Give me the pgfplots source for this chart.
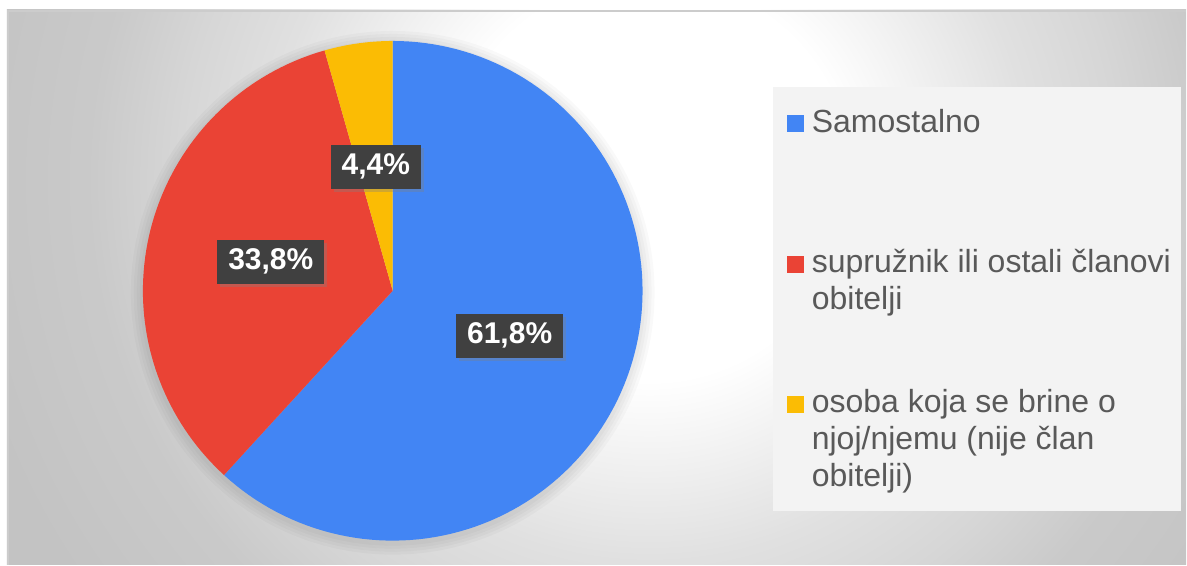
\documentclass[border=0pt]{standalone}
\usepackage{pgfplots}
\pgfplotsset{compat=1.18}
\usepackage{fontspec}
\setmainfont{Liberation Sans}
\usetikzlibrary{shadows}
\definecolor{cblue}{HTML}{4285F4}
\definecolor{cred}{HTML}{EA4335}
\definecolor{cyellow}{HTML}{FBBC04}
\definecolor{labfill}{HTML}{404040}
\definecolor{legtext}{HTML}{595959}
\definecolor{legfill}{HTML}{F3F3F3}
\definecolor{frame}{HTML}{CCCCCC}
\pgfdeclareradialshading{bgshade}{\pgfpoint{0bp}{0bp}}{%
  color(0bp)=(white);
  color(7.6bp)=(white);
  color(14.4bp)=(white!88!black);
  color(17.8bp)=(white!84!black);
  color(21.2bp)=(white!79!black);
  color(26.5bp)=(white!76.5!black);
  color(50bp)=(white!75!black)}
\begin{document}
\begin{tikzpicture}
% background
\fill[white] (0,0) rectangle (593.5pt,282.5pt);
\begin{scope}
\clip (3.5pt,0) rectangle (593.5pt,277.5pt);
\shade[shading=bgshade] (-5pt,-137.5pt) rectangle (655pt,522.5pt);
\end{scope}
\draw[frame, line width=0.8pt] (3.9pt,0) -- (3.9pt,277.1pt) -- (593.5pt,277.1pt);
% soft halo round the pie
\foreach \r in {131,129.5,128,126.5}{\fill[black, opacity=0.025] (196.5pt,136pt) circle (\r pt);}
% pie
\begin{axis}[at={(196.5pt,137pt)}, anchor=center,
  x=125pt, y=125pt, xmin=-1, xmax=1, ymin=-1, ymax=1,
  hide axis, clip=false]
\addplot[fill=cblue, draw=none, domain={0}:{61.8*3.6}, samples=120, variable=\t]
  ({sin(\t)},{cos(\t)}) -- (axis cs:0,0) -- cycle;
\addplot[fill=cred, draw=none, domain={61.8*3.6}:{(61.8+33.8)*3.6}, samples=80, variable=\t]
  ({sin(\t)},{cos(\t)}) -- (axis cs:0,0) -- cycle;
\addplot[fill=cyellow, draw=none, domain={(61.8+33.8)*3.6}:{360}, samples=20, variable=\t]
  ({sin(\t)},{cos(\t)}) -- (axis cs:0,0) -- cycle;
\tikzset{lab/.style={fill=labfill, text=white, font=\fontsize{15pt}{17pt}\selectfont\bfseries,
  minimum height=22pt, inner xsep=5.5pt, inner ysep=0pt,
  drop shadow={shadow xshift=1.5pt, shadow yshift=-1.5pt, opacity=0.35}}}
\node[lab] at (axis cs:0.468,-0.18) {61,8\%};
\node[lab] at (axis cs:-0.488,0.116) {33,8\%};
\node[lab] at (axis cs:-0.068,0.496) {4,4\%};
\end{axis}
% legend
\fill[legfill] (387pt,27pt) rectangle (591pt,239pt);
\fill[cblue] (394pt,216.5pt) rectangle (402.5pt,225pt);
\fill[cred] (394pt,146pt) rectangle (402.5pt,154.5pt);
\fill[cyellow] (394pt,76pt) rectangle (402.5pt,84.5pt);
\begin{scope}[every node/.style={anchor=base west, inner sep=0pt, text=legtext,
  font=\fontsize{16pt}{19pt}\selectfont}]
\node at (406pt,216pt) {Samostalno};
\node at (406pt,146pt) {supružnik ili ostali članovi};
\node at (406pt,127.5pt) {obitelji};
\node at (406pt,76pt) {osoba koja se brine o};
\node at (406pt,57.5pt) {njoj/njemu (nije član};
\node at (406pt,39pt) {obitelji)};
\end{scope}
\end{tikzpicture}
\end{document}
